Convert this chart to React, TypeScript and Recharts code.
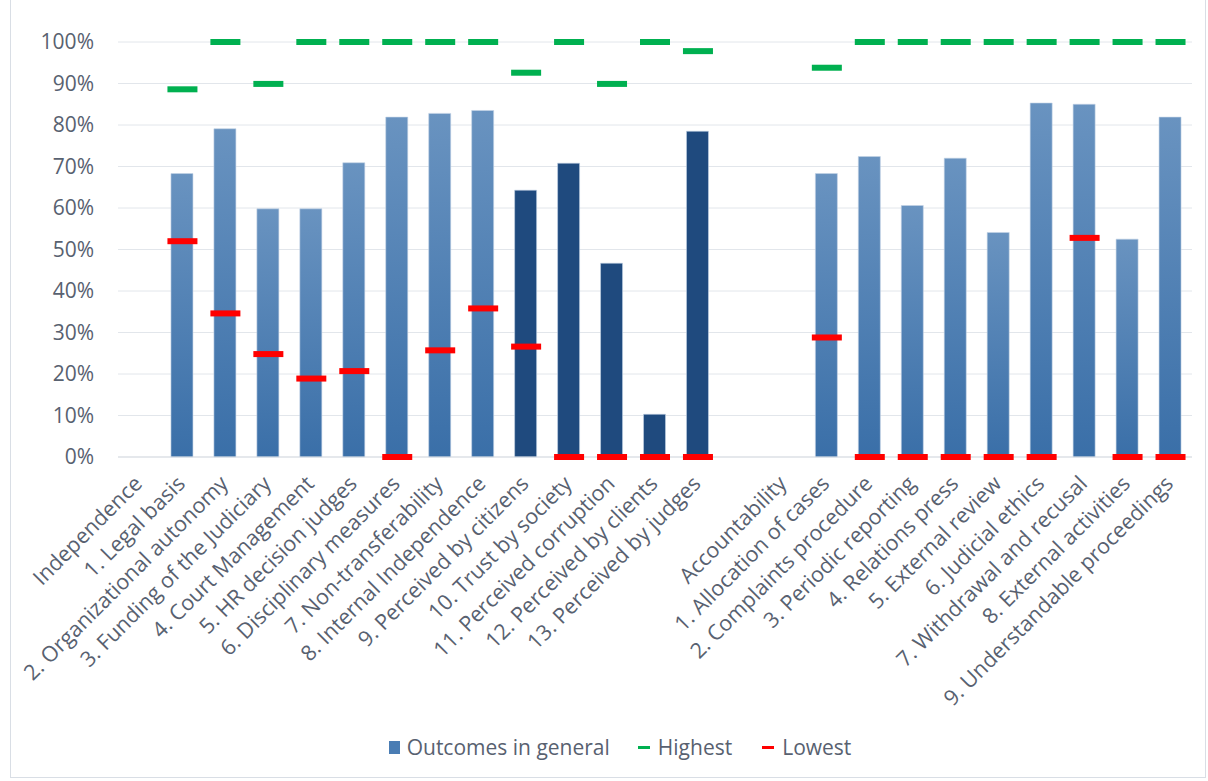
import React from "react";
import { ComposedChart, Bar, Line, XAxis, YAxis, CartesianGrid, Legend, Cell } from "recharts";

const categories = [
  "Independence",
  "1. Legal basis",
  "2. Organizational autonomy",
  "3. Funding of the Judiciary",
  "4. Court Management",
  "5. HR decision judges",
  "6. Disciplinary measures",
  "7. Non-transferability",
  "8. Internal Independence",
  "9. Perceived by citizens",
  "10. Trust by society",
  "11. Perceived corruption",
  "12. Perceived by clients",
  "13. Perceived by judges",
  "",
  "Accountability",
  "1. Allocation of cases",
  "2. Complaints procedure",
  "3. Periodic reporting",
  "4. Relations press",
  "5. External review",
  "6. Judicial ethics",
  "7. Withdrawal and recusal",
  "8. External activities",
  "9. Understandable proceedings",
];

const outcomes = [
  null, 68.3, 79.1, 59.8, 59.8, 70.9, 81.9, 82.8, 83.5, 64.3, 70.8, 46.7, 10.3, 78.5,
  null, null, 68.3, 72.4, 60.6, 72.0, 54.1, 85.3, 85.0, 52.5, 81.9,
];

const highest = [
  null, 88.6, 100, 89.9, 100, 100, 100, 100, 100, 92.6, 100, 89.9, 100, 97.8,
  null, null, 93.8, 100, 100, 100, 100, 100, 100, 100, 100,
];

const lowest = [
  null, 52.0, 34.6, 24.8, 18.9, 20.7, 0, 25.7, 35.8, 26.6, 0, 0, 0, 0,
  null, null, 28.8, 0, 0, 0, 0, 0, 52.8, 0, 0,
];

// perception indicators are drawn in the darker blue
const perceptionItems = [
  "9. Perceived by citizens",
  "10. Trust by society",
  "11. Perceived corruption",
  "12. Perceived by clients",
  "13. Perceived by judges",
];

const yTicks = [0, 10, 20, 30, 40, 50, 60, 70, 80, 90, 100];

const data = categories.map((name, i) => ({
  name,
  outcome: outcomes[i],
  highest: highest[i],
  lowest: lowest[i],
}));

const FONT = "'Open Sans', sans-serif";
const TEXT = "#586170";

const XTick = ({ x, y, payload }: any) => {
  const ax = x + 4;
  const ay = y + 28;
  return (
    <text
      x={ax}
      y={ay}
      transform={`rotate(-45, ${ax}, ${ay})`}
      textAnchor="end"
      fontSize={21.5}
      fontFamily={FONT}
      fill={TEXT}
    >
      {payload.value}
    </text>
  );
};

const marker = (color: string) => (props: any) => {
  const { cx, cy, value, index } = props;
  if (value == null || cy == null) return <g key={index} />;
  return <rect key={index} x={cx - 15} y={cy - 3} width={30} height={6} fill={color} />;
};

const LegendContent = () => (
  <div
    style={{
      display: "flex",
      justifyContent: "center",
      alignItems: "center",
      fontFamily: FONT,
      fontSize: 21,
      color: TEXT,
      paddingLeft: 30,
    }}
  >
    <span style={{ display: "inline-block", width: 11, height: 13, background: "#4a7db4", marginRight: 7 }} />
    <span style={{ marginRight: 28 }}>Outcomes in general</span>
    <span style={{ display: "inline-block", width: 12, height: 3, background: "#00b050", marginRight: 8 }} />
    <span style={{ marginRight: 30 }}>Highest</span>
    <span style={{ display: "inline-block", width: 12, height: 3, background: "#ff0000", marginRight: 8 }} />
    <span>Lowest</span>
  </div>
);

export default function App() {
  return (
    <div style={{ position: "absolute", left: 0, top: 0, width: 1208, height: 781, background: "#fff" }}>
      <div
        style={{
          position: "absolute",
          left: 10,
          top: -2,
          width: 1194,
          height: 778,
          border: "1px solid #d9dee5",
        }}
      />
      <ComposedChart
        width={1208}
        height={781}
        data={data}
        margin={{ top: 42, right: 16, left: 18, bottom: 18 }}
        barCategoryGap={0}
      >
        <defs>
          <linearGradient id="barGrad" x1="0" y1="0" x2="0" y2="1">
            <stop offset="0%" stopColor="#6993c0" />
            <stop offset="100%" stopColor="#3a6fa8" />
          </linearGradient>
        </defs>
        <CartesianGrid vertical={false} stroke="#e2e6eb" />
        <XAxis
          dataKey="name"
          interval={0}
          tick={<XTick />}
          tickLine={false}
          tickSize={0}
          tickMargin={0}
          axisLine={{ stroke: "#d9dde3" }}
          height={276}
        />
        <YAxis
          domain={[0, 100]}
          ticks={yTicks}
          tickFormatter={(v) => `${v}%`}
          width={100}
          tickLine={false}
          axisLine={false}
          tick={{ fontSize: 21, fontFamily: FONT, fill: TEXT }}
          tickMargin={18}
        />
        <Legend verticalAlign="bottom" height={30} content={<LegendContent />} />
        <Bar dataKey="outcome" barSize={22} isAnimationActive={false} stroke="#c5d4e6" strokeWidth={0.6}>
          {data.map((d, i) => (
            <Cell key={i} fill={perceptionItems.includes(d.name) ? "#1f4a7e" : "url(#barGrad)"} />
          ))}
        </Bar>
        <Line
          dataKey="highest"
          stroke="none"
          isAnimationActive={false}
          dot={marker("#00b050")}
          activeDot={false}
          legendType="none"
        />
        <Line
          dataKey="lowest"
          stroke="none"
          isAnimationActive={false}
          dot={marker("#ff0000")}
          activeDot={false}
          legendType="none"
        />
      </ComposedChart>
    </div>
  );
}
